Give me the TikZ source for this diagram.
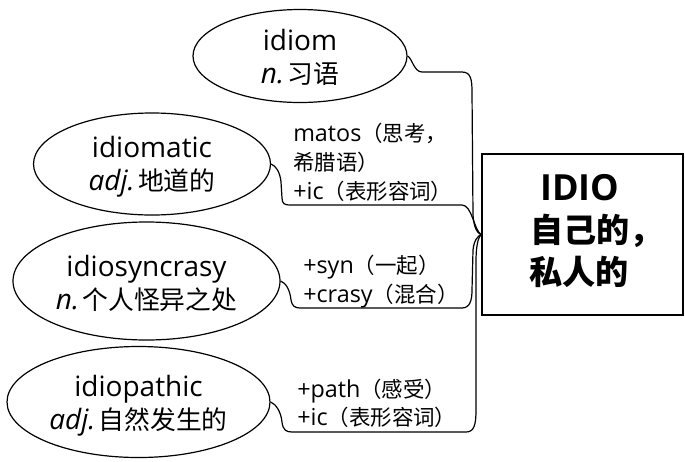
\documentclass[tikz,border=0pt]{standalone}
\usepackage{fontspec}
\setmainfont{Open Sans}
\newfontfamily\cjk{Noto Sans CJK SC}[Scale=0.92]
\usetikzlibrary{shapes.geometric}
\begin{document}
\begin{tikzpicture}[x=0.75pt,y=-0.75pt,
  bubble/.style={draw, ellipse, inner sep=0pt, line width=0.9pt},
  btext/.style={align=center, inner sep=0pt, font=\fontsize{21}{24.5}\selectfont},
  note/.style={anchor=base west, inner sep=0pt, font=\fontsize{17.5}{21}\selectfont},
  rootbox/.style={draw, line width=1.5pt, inner sep=0pt},
  roottext/.style={inner sep=0pt, font=\fontsize{27}{31.5}\selectfont\bfseries},
  link/.style={draw, line width=0.9pt}]
\useasboundingbox (0,0) rectangle (685,461);

% word bubbles
\node[bubble, minimum width=160.5pt, minimum height=69.75pt] (idiom) at (300,56) {};
\node[btext] (tidiom) at ([yshift=-1pt]idiom.center) {idiom\\\textit{n.}\hspace{0.12em}{\cjk 习语}};

\node[bubble, minimum width=177.75pt, minimum height=76.5pt] (matic) at (152,164) {};
\node[btext] (tmatic) at ([yshift=-2pt]matic.center) {idiomatic\\\textit{adj.}\hspace{0.12em}{\cjk 地道的}};

\node[bubble, minimum width=200.25pt, minimum height=88.5pt] (syncr) at (146.5,281) {};
\node[btext] (tsyncr) at ([yshift=-2pt]syncr.center) {idiosyncrasy\\\textit{n.}\hspace{0.12em}{\cjk 个人怪异之处}};

\node[bubble, minimum width=197.25pt, minimum height=83.25pt] (pathic) at (138.5,402) {};
\node[btext] (tpathic) at ([yshift=-3pt]pathic.center) {idiopathic\\\textit{adj.}\hspace{0.12em}{\cjk 自然发生的}};

% root box
\node[rootbox, minimum width=150.75pt, minimum height=120.75pt] (root) at (582.5,234.5) {};
\node[roottext, anchor=base] (r1) at (580,200) {IDIO};
\node[roottext, anchor=base west] (r2) at (530,242) {\cjk 自己的，};
\node[roottext, anchor=base west] (r3) at (529,284) {\cjk 私人的};

% notes
\node[note] (n1) at (293,141) {matos{\cjk（思考，}};
\node[note] (n2) at (293,170) {{\cjk 希腊语）}};
\node[note] (n3) at (293,199) {+ic{\cjk（表形容词）}};
\node[note] (n4) at (303,273) {+syn{\cjk（一起）}};
\node[note] (n5) at (303,302) {+crasy{\cjk（混合）}};
\node[note] (n6) at (297,397) {+path{\cjk（感受）}};
\node[note] (n7) at (297,425) {+ic{\cjk（表形容词）}};

% connectors
\draw[link] (idiom.east) .. controls (412,58) and (414,72) .. (422,72) -- (462,72)
  .. controls (471,72) and (472,80) .. (472,92) -- (473,215)
  .. controls (474,228) and (477,233) .. (root.west);
\draw[link] (matic.east) .. controls (276,166) and (280,172) .. (281,182) -- (282,198)
  .. controls (282,204) and (285,205) .. (290,205) -- (462,205)
  .. controls (472,205) and (474,230) .. (root.west);
\draw[link] (syncr.east) .. controls (286,283) and (290,290) .. (291,300)
  .. controls (292,306) and (295,308) .. (300,308) -- (462,308)
  .. controls (470,308) and (472,300) .. (472,290) -- (473,250)
  .. controls (474,240) and (478,236) .. (root.west);
\draw[link] (pathic.east) .. controls (276,404) and (281,412) .. (282,422)
  .. controls (283,430) and (286,432) .. (292,432) -- (466,432)
  .. controls (474,432) and (476,425) .. (476,410) -- (476,262)
  .. controls (476,246) and (478,238) .. (root.west);
\end{tikzpicture}
\end{document}
